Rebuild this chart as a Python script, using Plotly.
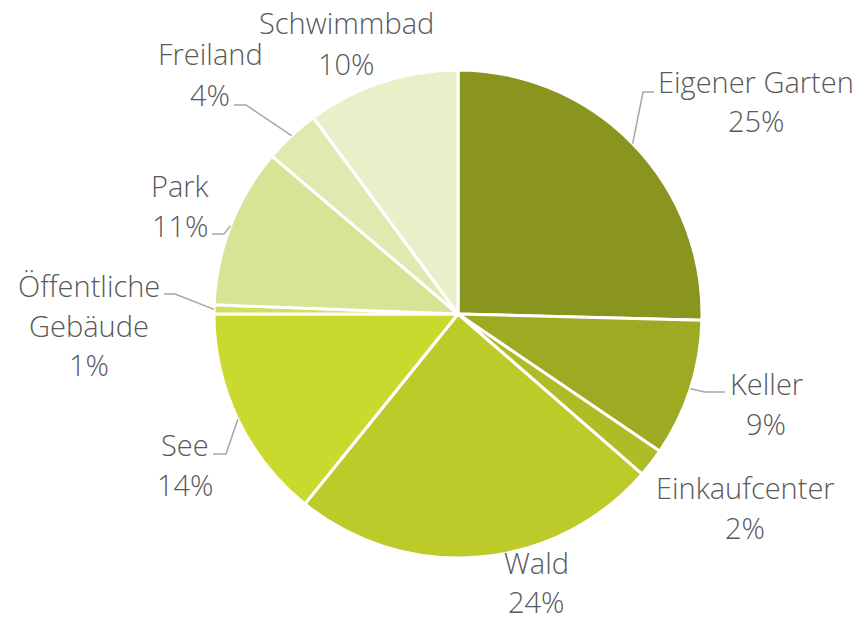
import numpy as np
import plotly.graph_objects as go

# ── DATA ──────────────────────────────────────────────────────────────────────

LABELS = ["Eigener Garten", "Keller", "Einkaufcenter", "Wald", "See",
          "Öffentliche Gebäude", "Park", "Freiland", "Schwimmbad"]
VALUES = [25.4, 9.1, 1.9, 24.4, 14.2, 0.6, 10.6, 3.7, 10.1]
PCT_TEXT = ["25%", "9%", "2%", "24%", "14%", "1%", "11%", "4%", "10%"]
COLORS = ["#8a951f", "#9eaa22", "#aebc25", "#bdcb2a", "#c9d92e",
          "#d1df5a", "#d8e395", "#e1e9b0", "#e9f0c9"]

# ── LAYOUT (window pixels) ────────────────────────────────────────────────────

W, H = 861, 621
CX, CY, R = 458, 314, 244

# label text lines, centre x of block, y of first line
LABEL_POS = {
    "Eigener Garten":      (["Eigener Garten"], 756, 81),
    "Keller":              (["Keller"], 766, 383),
    "Einkaufcenter":       (["Einkaufcenter"], 745, 487),
    "Wald":                (["Wald"], 536, 562),
    "See":                 (["See"], 185, 444),
    "Öffentliche Gebäude": (["Öffentliche", "Gebäude"], 89, 285),
    "Park":                (["Park"], 180, 185),
    "Freiland":            (["Freiland"], 210, 54),
    "Schwimmbad":          (["Schwimmbad"], 346, 23),
}
LINE_STEP = 40

# leader lines: elbow point and horizontal end x
LEADERS = {
    "Eigener Garten":      (643, 92, 654),
    "Keller":              (705, 392, 725),
    "See":                 (226, 454, 213),
    "Öffentliche Gebäude": (175, 294, 164),
    "Park":                (224, 234, 212),
    "Freiland":            (246, 105, 234),
}

FONT = dict(family="Open Sans", size=29, color="#595959", weight=300)


def px(x, y):
    return x / W, 1 - y / H


fig = go.Figure(go.Pie(
    labels=LABELS,
    values=VALUES,
    sort=False,
    direction="clockwise",
    rotation=0,
    marker=dict(colors=COLORS, line=dict(color="white", width=3)),
    textinfo="none",
    hoverinfo="label+percent",
    domain=dict(x=[px(CX - R, 0)[0], px(CX + R, 0)[0]],
                y=[px(0, CY + R)[1], px(0, CY - R)[1]]),
))

total = sum(VALUES)
cum = np.cumsum([0] + VALUES)
for i, lab in enumerate(LABELS):
    lines, lx, ly = LABEL_POS[lab]
    lines = lines + [PCT_TEXT[i]]
    step = LINE_STEP - 1 if lab == "Wald" else LINE_STEP
    for k, t in enumerate(lines):
        ax, ay = px(lx, ly + k * step)
        fig.add_annotation(x=ax, y=ay, xref="paper", yref="paper", text=t,
                           showarrow=False, xanchor="center", yanchor="middle",
                           borderpad=0, font=FONT)
    if lab in LEADERS:
        mid = 2 * np.pi * (cum[i] + VALUES[i] / 2) / total
        sx, sy = CX + R * np.sin(mid), CY - R * np.cos(mid)
        ex, ey, hx = LEADERS[lab]
        pts = [px(sx, sy), px(ex, ey), px(hx, ey)]
        path = "M {} {} L {} {} L {} {}".format(*[c for p in pts for c in p])
        fig.add_shape(type="path", path=path, xref="paper", yref="paper",
                      line=dict(color="#a6a6a6", width=1.5))

fig.update_layout(
    width=W, height=H,
    margin=dict(l=0, r=0, t=0, b=0),
    paper_bgcolor="white",
    plot_bgcolor="white",
    showlegend=False,
)

# drop the browser's default body margin so the figure fills the window
fig.write_html("out.html",
               config={"displayModeBar": False},
               post_script="document.body.style.margin='0';"
                           "document.body.style.overflow='hidden';")
